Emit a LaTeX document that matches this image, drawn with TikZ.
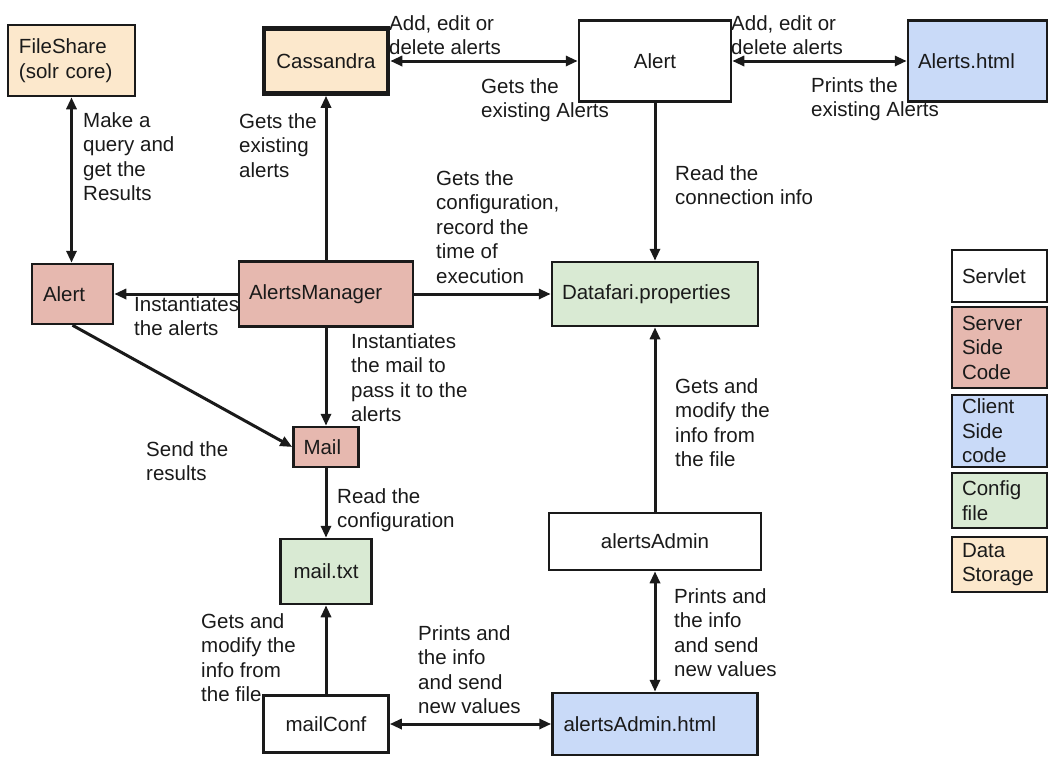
\documentclass[tikz,border=0pt]{standalone}
\usepackage{fontspec}
\setmainfont{Liberation Sans}
\usetikzlibrary{arrows.meta}
\definecolor{srv}{HTML}{E6B8AF}
\definecolor{cli}{HTML}{C9DAF8}
\definecolor{cfg}{HTML}{D9EAD3}
\definecolor{sto}{HTML}{FCE8CC}
\definecolor{ink}{HTML}{1A1A1A}
\newcommand{\labfont}{\fontsize{20.5}{24.5}\selectfont}
\begin{document}
\begin{tikzpicture}[x=1pt,y=-1pt,
  box/.style={draw=ink, line width=2.5pt, inner sep=0pt, font=\labfont, text=ink},
  lbox/.style={box, align=left, inner xsep=10pt},
  thickbox/.style={box, line width=4.5pt},
  lbl/.style={inner sep=0pt, anchor=north west, align=left, font=\labfont, text=ink},
  arr/.style={line width=3pt, draw=ink, -{Triangle[length=12pt,width=10pt]}},
  dbl/.style={line width=3pt, draw=ink, {Triangle[length=12pt,width=10pt]}-{Triangle[length=12pt,width=10pt]}}]
\useasboundingbox (0,0) rectangle (1050,756);
% boxes
\node[lbox, fill=sto, text width=105pt, inner xsep=11pt, minimum height=71pt] (fs) at (71.5,60.5) {FileShare\\(solr core)};
\node[thickbox, fill=sto, minimum width=124pt, minimum height=65pt] (cas) at (326,61) {Cassandra};
\node[box, fill=white, minimum width=152pt, minimum height=81pt] (alt) at (655,61) {Alert};
\node[lbox, fill=cli, text width=119pt, minimum height=81pt] (ahtml) at (977.5,61) {Alerts.html};
\node[lbox, fill=srv, text width=59pt, inner xsep=11pt, minimum height=60pt] (all) at (72.5,294) {Alert};
\node[lbox, fill=srv, text width=154pt, minimum height=65pt] (am) at (326,294) {AlertsManager};
\node[lbox, fill=cfg, text width=186pt, minimum height=64pt] (dp) at (655,294) {Datafari.properties};
\node[lbox, fill=srv, text width=45pt, minimum height=40pt] (mail) at (326,447) {Mail};
\node[box, fill=cfg, minimum width=91pt, minimum height=65pt] (mtxt) at (326,571.5) {mail.txt};
\node[box, fill=white, minimum width=125pt, minimum height=57pt] (mconf) at (326,724) {mailConf};
\node[box, fill=white, minimum width=212pt, minimum height=57pt] (aa) at (655,541.5) {alertsAdmin};
\node[lbox, fill=cli, text width=183pt, inner xsep=11pt, minimum height=62pt] (aah) at (655,724) {alertsAdmin.html};
% legend
\node[lbox, fill=white, text width=75pt, minimum height=52pt] (lg1) at (999.5,276) {Servlet};
\node[lbox, fill=srv, text width=75pt, minimum height=81pt] (lg2) at (999.5,347.5) {Server\\Side\\Code};
\node[lbox, fill=cli, text width=75pt, minimum height=72pt] (lg3) at (999.5,431) {Client\\Side\\code};
\node[lbox, fill=cfg, text width=75pt, minimum height=55pt] (lg4) at (999.5,500.5) {Config\\file};
\node[lbox, fill=sto, text width=75pt, minimum height=55pt] (lg5) at (999.5,564.5) {Data\\Storage};
% connectors
\draw[dbl] (fs.south) -- (fs.south |- all.north);
\draw[arr] (am.north) -- (cas.south);
\draw[dbl] (cas.east) -- (alt.west);
\draw[dbl] (alt.east) -- (ahtml.west);
\draw[arr] (alt.south) -- (dp.north);
\draw[arr] (am.west) -- (all.east);
\draw[arr] (am.east) -- (dp.west);
\draw[arr] (am.south) -- (mail.north);
\draw[arr] (all.south) -- (mail.west);
\draw[arr] (mail.south) -- (mtxt.north);
\draw[arr] (mconf.north) -- (mtxt.south);
\draw[dbl] (mconf.east) -- (aah.west);
\draw[arr] (aa.north) -- (dp.south);
\draw[dbl] (aa.south) -- (aah.north);
% labels
\node[lbl] (t1) at (83,112) {Make a\\query and\\get the\\Results};
\node[lbl] (t2) at (239,113) {Gets the\\existing\\alerts};
\node[lbl] (t3) at (389,15) {Add, edit or\\delete alerts};
\node[lbl] (t4) at (481,78) {Gets the\\existing Alerts};
\node[lbl] (t5) at (731,15) {Add, edit or\\delete alerts};
\node[lbl] (t6) at (811,77) {Prints the\\existing Alerts};
\node[lbl] (t7) at (675,165) {Read the\\connection info};
\node[lbl] (t8) at (436,170) {Gets the\\configuration,\\record the\\time of\\execution};
\node[lbl] (t9) at (134,296) {Instantiates\\the alerts};
\node[lbl] (t10) at (351,333) {Instantiates\\the mail to\\pass it to the\\alerts};
\node[lbl] (t11) at (146,441) {Send the\\results};
\node[lbl] (t12) at (337,488) {Read the\\configuration};
\node[lbl] (t13) at (201,613) {Gets and\\modify the\\info from\\the file};
\node[lbl] (t14) at (418,625) {Prints and\\the info\\and send\\new values};
\node[lbl] (t15) at (675,378) {Gets and\\modify the\\info from\\the file};
\node[lbl] (t16) at (674,588) {Prints and\\the info\\and send\\new values};
\end{tikzpicture}
\end{document}
